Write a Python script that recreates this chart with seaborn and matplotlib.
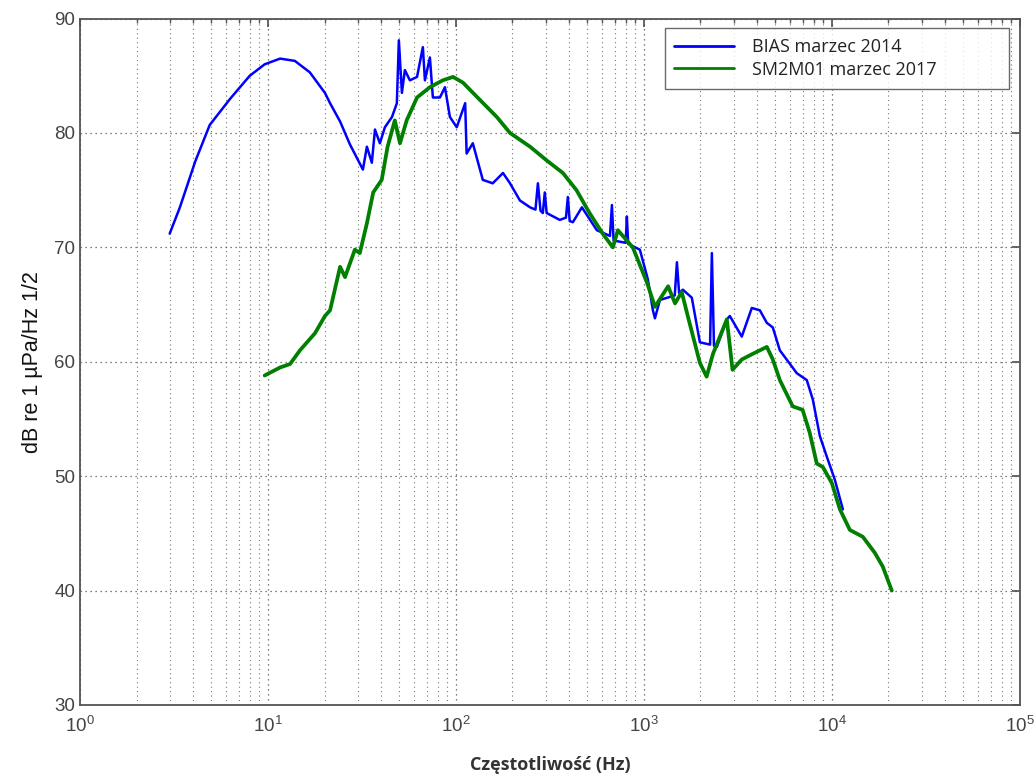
import numpy as np
import pandas as pd
import matplotlib
matplotlib.use("Agg")
from matplotlib import pyplot as plt
from matplotlib import ticker
import seaborn as sns

# BIAS marzec 2014 (blue)
bias_freq = [3.0, 3.4, 4.1, 4.9, 6.3, 8.0, 9.6, 11.6, 13.9, 16.7, 20.1, 21.4, 24.2, 27.3,
             32.0, 33.6, 35.7, 37.1, 39.4, 41.9, 45.7, 48.5, 49.7, 51.6, 53.5, 56.9, 62.1,
             66.7, 68.4, 72.7, 75.4, 82.2, 87.4, 92.9, 101, 112, 114, 123, 139, 157, 178,
             194, 219, 248, 265, 273, 282, 290, 297, 304, 357, 385, 394, 403, 419, 468, 562,
             660, 676, 690, 800, 812, 825, 952, 1050, 1117, 1145, 1217, 1460, 1499, 1540,
             1612, 1799, 1986, 2250, 2300, 2360, 2445, 2762, 2866, 3318, 3751, 4139, 4510,
             4853, 5289, 6511, 7357, 7923, 8636, 9405, 10370, 11450]
bias_db = [71.2, 73.5, 77.5, 80.7, 83.0, 85.0, 86.0, 86.5, 86.3, 85.3, 83.5, 82.6, 81.0, 79.0,
           76.8, 78.8, 77.4, 80.3, 79.1, 80.5, 81.4, 82.6, 88.1, 83.5, 85.5, 84.6, 84.9,
           87.5, 84.6, 86.6, 83.1, 83.1, 84.0, 81.4, 80.5, 82.6, 78.2, 79.1, 75.9, 75.6, 76.5,
           75.6, 74.1, 73.5, 73.3, 75.6, 73.2, 73.0, 74.8, 73.0, 72.4, 72.6, 74.4, 72.3, 72.2,
           73.5, 71.5, 71.0, 73.7, 70.6, 70.4, 72.7, 70.3, 69.8, 67.2, 64.5, 63.8, 65.4,
           65.8, 68.7, 66.0, 66.3, 65.6, 61.7, 61.5, 69.5, 61.4, 61.3, 63.7, 64.0, 62.2, 64.7,
           64.5, 63.4, 63.0, 61.0, 59.0, 58.4, 56.7, 53.5, 51.7, 49.7, 47.1]

# SM2M01 marzec 2017 (green)
sm_freq = [9.6, 11.6, 13.1, 14.8, 17.8, 20.1, 21.4, 24.2, 25.7, 29.0, 30.8, 33.6, 36.3,
           40.3, 43.3, 47.3, 50.4, 54.7, 62.1, 72.7, 85.1, 96.5, 109, 134, 165, 194, 248,
           304, 371, 438, 514, 604, 684, 727, 873, 1040, 1145, 1346, 1465, 1590, 1712, 1986,
           2157, 2333, 2762, 2963, 3318, 3803, 4510, 4853, 5289, 6195, 6988, 7625, 8318,
           8954, 10000, 11040, 12470, 14620, 16930, 18660, 20840]
sm_db = [58.8, 59.5, 59.8, 61.0, 62.5, 64.0, 64.5, 68.3, 67.4, 69.8, 69.5, 72.1, 74.8,
         75.9, 78.8, 81.1, 79.1, 81.1, 83.1, 84.0, 84.6, 84.9, 84.4, 82.9, 81.4, 80.0, 78.8,
         77.6, 76.5, 75.0, 73.0, 71.2, 70.0, 71.5, 70.0, 66.9, 64.8, 66.6, 65.1, 66.1, 64.0,
         59.9, 58.7, 60.7, 63.7, 59.3, 60.2, 60.7, 61.3, 60.2, 58.4, 56.1, 55.8, 53.8, 51.1,
         50.8, 49.4, 47.1, 45.3, 44.7, 43.3, 42.1, 40.0]

labels = ["BIAS marzec 2014", "SM2M01 marzec 2017"]

sns.set_theme(style="white")
plt.rcParams['font.family'] = ['Liberation Sans', 'DejaVu Sans']

df = pd.concat([
    pd.DataFrame({"f": bias_freq, "db": bias_db, "serie": labels[0]}),
    pd.DataFrame({"f": sm_freq, "db": sm_db, "serie": labels[1]}),
])

fig = plt.figure(figsize=(10.35, 7.8), dpi=100)
ax = fig.add_axes([0.0773, 0.0962, 0.908, 0.880])

sns.lineplot(data=df, x="f", y="db", hue="serie", estimator=None, sort=True,
             palette=["#0000ff", "#007f00"], ax=ax, linewidth=2)
for ln, lw in zip(ax.lines, [1.8, 2.7]):
    ln.set_linewidth(lw)

ax.set_xscale("log")
ax.set_xlim(1, 1e5)
ax.set_ylim(30, 90)
ax.set_yticks(np.arange(30, 91, 10))
ax.xaxis.set_major_locator(ticker.LogLocator(base=10, numticks=10))
ax.xaxis.set_minor_locator(ticker.LogLocator(base=10, subs=np.arange(2, 10), numticks=100))

ax.grid(True, which="major", axis="both", color="#555555", linestyle=(0, (1, 3)), linewidth=0.9)
ax.grid(True, which="minor", axis="x", color="#777777", linestyle=(0, (1, 3)), linewidth=0.8)

for s in ax.spines.values():
    s.set_color("#555555")
    s.set_linewidth(1.3)
ax.tick_params(which="both", direction="in", top=True, right=True, colors="#555555",
               labelcolor="#444444", labelsize=13.5)
ax.tick_params(which="major", length=6)
ax.tick_params(which="minor", length=3)
ax.tick_params(axis="x", pad=8)

ax.set_xlabel("Częstotliwość (Hz)", family=["Open Sans", "DejaVu Sans"], fontweight="bold",
              fontsize=13, color="#333333", labelpad=14)
ax.set_ylabel("dB re 1 µPa/Hz 1/2", fontsize=15.5, color="#111111", labelpad=8)

leg = ax.legend(loc="upper left", bbox_to_anchor=(0.622, 0.896, 0.367, 0.09), mode="expand",
                frameon=True, fancybox=False, handlelength=3.3, handletextpad=1.0,
                borderaxespad=0.0, borderpad=0.55, labelspacing=0.25,
                prop={"family": ["Open Sans", "DejaVu Sans"], "size": 13})
leg.get_frame().set_edgecolor("#444444")
leg.get_frame().set_linewidth(1.0)
for t in leg.get_texts():
    t.set_color("#222222")

fig.savefig("out.png", dpi=100, facecolor="white")
